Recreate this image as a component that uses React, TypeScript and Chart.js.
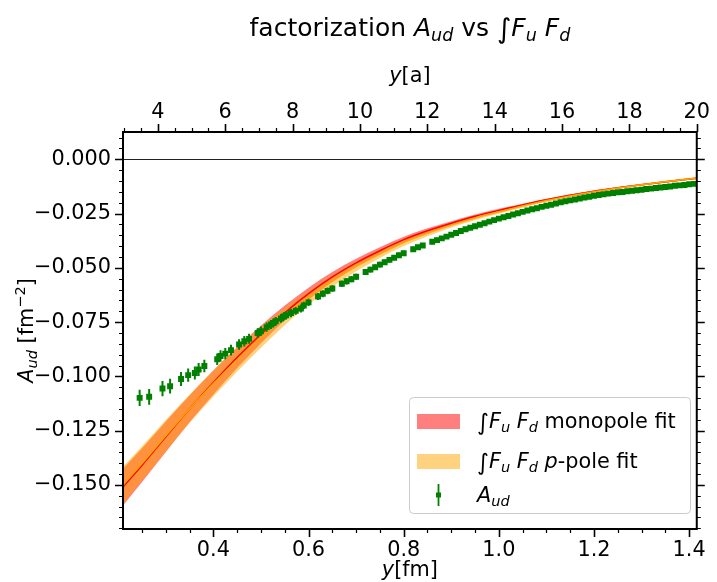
import React, { useEffect, useRef } from 'react';
import { Chart, registerables } from 'chart.js';
Chart.register(...registerables);

// ---------- axis ranges & tick labels ----------
const X_MIN = 0.21; // fm
const X_MAX = 1.416; // fm
const LATTICE_A = 0.0708; // fm, for the top y[a] axis
const Y_MIN = -0.1703;
const Y_MAX = 0.0126;
const X_TICKS = [0.4, 0.6, 0.8, 1.0, 1.2, 1.4];
const XA_TICKS = [4, 6, 8, 10, 12, 14, 16, 18, 20];
const Y_TICKS = [0, -0.025, -0.05, -0.075, -0.1, -0.125, -0.15];

// ---------- fit bands ----------
const FIT_X = [0.21, 0.25, 0.3, 0.35, 0.4, 0.45, 0.5, 0.55, 0.6, 0.65, 0.7, 0.75, 0.8, 0.85, 0.9, 0.95, 1.0, 1.1, 1.2, 1.3, 1.416];
const MONO_MID = [-0.1510, -0.1409, -0.1278, -0.1149, -0.1028, -0.0913, -0.0806, -0.0707, -0.0619, -0.0542, -0.0477, -0.0421, -0.0370, -0.0329, -0.0294, -0.0262, -0.0235, -0.0186, -0.0147, -0.0117, -0.0087];
const MONO_HI = [-0.1425, -0.1331, -0.1208, -0.1087, -0.0973, -0.0865, -0.0765, -0.0673, -0.0591, -0.0519, -0.0458, -0.0405, -0.0357, -0.0318, -0.0285, -0.0254, -0.0228, -0.0181, -0.0143, -0.0114, -0.0084];
const MONO_LO = [-0.1595, -0.1487, -0.1348, -0.1211, -0.1083, -0.0961, -0.0847, -0.0741, -0.0647, -0.0565, -0.0496, -0.0437, -0.0383, -0.0340, -0.0303, -0.0270, -0.0242, -0.0191, -0.0151, -0.0120, -0.0090];
const PP_MID = [-0.1500, -0.1401, -0.1273, -0.1149, -0.1033, -0.0923, -0.0821, -0.0724, -0.0637, -0.0560, -0.0493, -0.0436, -0.0383, -0.0341, -0.0303, -0.0270, -0.0242, -0.0190, -0.0149, -0.0117, -0.0086];
const PP_HI = [-0.1415, -0.1322, -0.1201, -0.1084, -0.0973, -0.0869, -0.0774, -0.0684, -0.0605, -0.0533, -0.0470, -0.0417, -0.0367, -0.0328, -0.0292, -0.0260, -0.0233, -0.0183, -0.0143, -0.0112, -0.0081];
const PP_LO = [-0.1585, -0.1480, -0.1345, -0.1214, -0.1093, -0.0977, -0.0868, -0.0764, -0.0669, -0.0587, -0.0516, -0.0455, -0.0399, -0.0354, -0.0314, -0.0280, -0.0251, -0.0197, -0.0155, -0.0122, -0.0091];

// ---------- A_ud data ----------
const AUD_X = [
  0.245, 0.265, 0.293, 0.309, 0.332, 0.347, 0.361, 0.369, 0.381, 0.408, 0.415, 0.425, 0.437, 0.454,
  0.465, 0.475, 0.493, 0.500, 0.512, 0.521, 0.526, 0.531, 0.542, 0.548, 0.553, 0.563, 0.573, 0.584,
  0.59, 0.60, 0.62, 0.63, 0.64, 0.65, 0.67, 0.68, 0.69, 0.70,
  0.72, 0.73, 0.74, 0.75, 0.76, 0.77, 0.78, 0.79, 0.80,
  0.82, 0.83, 0.84,
  0.86, 0.87, 0.88, 0.89, 0.90,
  0.91, 0.92, 0.93, 0.94, 0.95, 0.96, 0.97, 0.98, 0.99, 1.00,
  1.01, 1.02, 1.03, 1.04, 1.05, 1.06, 1.07, 1.08, 1.09, 1.10,
  1.11, 1.12, 1.13, 1.14, 1.15, 1.16, 1.17, 1.18, 1.19, 1.20, 1.21, 1.22, 1.23, 1.24, 1.25,
  1.26, 1.27, 1.28, 1.29, 1.30, 1.31, 1.32, 1.33, 1.34, 1.35, 1.36, 1.37, 1.38, 1.39, 1.40, 1.41,
];
const AUD_Y = [
  -0.1099, -0.1094, -0.1056, -0.1045, -0.1012, -0.0994, -0.0984, -0.0968, -0.0952, -0.0921, -0.0906, -0.0895, -0.0879, -0.0853,
  -0.0838, -0.0827, -0.0800, -0.0792, -0.0773, -0.0761, -0.0754, -0.0746, -0.0733, -0.0724, -0.0718, -0.0708, -0.0698, -0.0687,
  -0.0673, -0.0659, -0.0632, -0.0619, -0.0606, -0.0595, -0.0573, -0.0562, -0.0552, -0.0541,
  -0.0519, -0.0508, -0.0497, -0.0485, -0.0474, -0.0463, -0.0453, -0.0442, -0.0433,
  -0.0414, -0.0405, -0.0397,
  -0.0380, -0.0372, -0.0364, -0.0356, -0.0347,
  -0.0339, -0.0330, -0.0322, -0.0315, -0.0308, -0.0301, -0.0294, -0.0287, -0.0280, -0.0273,
  -0.0267, -0.0261, -0.0254, -0.0248, -0.0242, -0.0236, -0.0230, -0.0225, -0.0219, -0.0214,
  -0.0209, -0.0203, -0.0198, -0.0193, -0.0189, -0.0185, -0.0180, -0.0176, -0.0172, -0.0168, -0.0164, -0.0161, -0.0158, -0.0155, -0.0152,
  -0.0150, -0.0147, -0.0145, -0.0142, -0.0140, -0.0137, -0.0135, -0.0132, -0.0130, -0.0127, -0.0125, -0.0122, -0.0120, -0.0118, -0.0115, -0.0113,
];
const AUD_ERR = [
  0.0037, 0.0036, 0.0035, 0.0034, 0.0032, 0.0031, 0.0030, 0.0030, 0.0029, 0.0027, 0.0027, 0.0026, 0.0025, 0.0024,
  0.0024, 0.0023, 0.0022, 0.0022, 0.0021, 0.0021, 0.0020, 0.0020, 0.0020, 0.0019, 0.0019, 0.0019, 0.0018, 0.0018,
  0.0017, 0.0017, 0.0016, 0.0016, 0.0016, 0.0015, 0.0015, 0.0015, 0.0014, 0.0014,
  0.0014, 0.0013, 0.0013, 0.0013, 0.0013, 0.0012, 0.0012, 0.0012, 0.0012,
  0.0011, 0.0011, 0.0011,
  0.0011, 0.0011, 0.0011, 0.0011, 0.0011,
  0.0010, 0.0010, 0.0010, 0.0010, 0.0010, 0.0010, 0.0010, 0.0010, 0.0010, 0.0010,
  0.0010, 0.0010, 0.0010, 0.0010, 0.0010, 0.0010, 0.0010, 0.0010, 0.0010, 0.0010,
  0.0009, 0.0009, 0.0009, 0.0009, 0.0009, 0.0009, 0.0009, 0.0009, 0.0009, 0.0009, 0.0009, 0.0009, 0.0009, 0.0009, 0.0009,
  0.0008, 0.0008, 0.0008, 0.0008, 0.0008, 0.0008, 0.0008, 0.0008, 0.0008, 0.0008, 0.0008, 0.0008, 0.0008, 0.0008, 0.0008, 0.0008,
];

// ---------- styling ----------
const FAM = "'DejaVu Sans', 'Liberation Sans', sans-serif";
const FS = 20.8;
const TITLE_FS = 25;
const MONO_FILL = 'rgba(255,0,0,0.5)';
const PP_FILL = 'rgba(255,165,0,0.5)';
const GREEN = '#008000';

type Seg = { t: string; it?: boolean; sub?: boolean; sup?: boolean; scale?: number; dy?: number };

function segFont(s: Seg, size: number) {
  const sz = size * (s.sub || s.sup ? 0.7 : 1) * (s.scale || 1);
  return `${s.it ? 'italic ' : ''}${sz}px ${FAM}`;
}
function richWidth(ctx: CanvasRenderingContext2D, segs: Seg[], size: number) {
  let w = 0;
  for (const s of segs) {
    ctx.font = segFont(s, size);
    w += ctx.measureText(s.t).width;
  }
  return w;
}
function drawRich(ctx: CanvasRenderingContext2D, segs: Seg[], x: number, y: number, size: number, align: 'left' | 'center') {
  const w = richWidth(ctx, segs, size);
  let cx = align === 'center' ? x - w / 2 : x;
  ctx.textAlign = 'left';
  ctx.textBaseline = 'alphabetic';
  ctx.fillStyle = 'black';
  for (const s of segs) {
    ctx.font = segFont(s, size);
    const dy = s.sub ? 0.2 * size : s.sup ? -0.4 * size : (s.dy || 0) * size;
    ctx.fillText(s.t, cx, y + dy);
    cx += ctx.measureText(s.t).width;
  }
}

const INT_FF: Seg[] = [
  { t: '\u222B', scale: 1.1, dy: 0.08 },
  { t: 'F', it: true },
  { t: 'u', it: true, sub: true },
  { t: ' ' },
  { t: 'F', it: true },
  { t: 'd', it: true, sub: true },
];
const TITLE: Seg[] = [
  { t: 'factorization ' },
  { t: 'A', it: true },
  { t: 'ud', it: true, sub: true },
  { t: ' vs ' },
  ...INT_FF,
];
const LEG1: Seg[] = [...INT_FF, { t: ' monopole fit' }];
const LEG2: Seg[] = [...INT_FF, { t: ' ' }, { t: 'p', it: true }, { t: '-pole fit' }];
const LEG3: Seg[] = [{ t: 'A', it: true }, { t: 'ud', it: true, sub: true }];
const YLABEL: Seg[] = [{ t: 'A', it: true }, { t: 'ud', it: true, sub: true }, { t: ' [fm' }, { t: '\u22122', sup: true }, { t: ']' }];
const XLABEL: Seg[] = [{ t: 'y', it: true }, { t: '[fm]' }];
const XALABEL: Seg[] = [{ t: 'y', it: true }, { t: '[a]' }];

const pts = (xs: number[], ys: number[]) => xs.map((x, i) => ({ x, y: ys[i] }));

const fmtY = (v: number) => {
  const s = Number(v).toFixed(3);
  return s.startsWith('-') ? '\u2212' + s.slice(1) : s;
};

const bgPlugin = {
  id: 'bg',
  beforeDraw(chart: any) {
    const ctx = chart.ctx;
    ctx.save();
    ctx.fillStyle = 'white';
    ctx.fillRect(0, 0, chart.width, chart.height);
    ctx.restore();
  },
  beforeDatasetsDraw(chart: any) {
    const ctx = chart.ctx;
    const ca = chart.chartArea;
    const y0 = Math.round(chart.scales.y.getPixelForValue(0)) + 0.5;
    ctx.save();
    ctx.strokeStyle = '#222222';
    ctx.lineWidth = 1.2;
    ctx.beginPath();
    ctx.moveTo(ca.left, y0);
    ctx.lineTo(ca.right, y0);
    ctx.stroke();
    ctx.restore();
  },
};

const errPlugin = {
  id: 'errbars',
  afterDatasetsDraw(chart: any) {
    const ctx = chart.ctx;
    const ca = chart.chartArea;
    const xs = chart.scales.x;
    const ys = chart.scales.y;
    ctx.save();
    ctx.beginPath();
    ctx.rect(ca.left, ca.top, ca.right - ca.left, ca.bottom - ca.top);
    ctx.clip();
    ctx.strokeStyle = GREEN;
    ctx.lineWidth = 2;
    ctx.beginPath();
    for (let i = 0; i < AUD_X.length; i++) {
      const px = xs.getPixelForValue(AUD_X[i]);
      ctx.moveTo(px, ys.getPixelForValue(AUD_Y[i] + AUD_ERR[i]));
      ctx.lineTo(px, ys.getPixelForValue(AUD_Y[i] - AUD_ERR[i]));
    }
    ctx.stroke();
    ctx.restore();
  },
};

const framePlugin = {
  id: 'frame',
  afterDraw(chart: any) {
    const ctx = chart.ctx as CanvasRenderingContext2D;
    const ca = chart.chartArea;
    const xs = chart.scales.x;
    const xa = chart.scales.x2;
    const ys = chart.scales.y;
    const MAJ = 8;
    const MIN = 4;
    ctx.save();
    ctx.strokeStyle = 'black';

    // y ticks (left & right)
    const yTick = (v: number, len: number, lw: number) => {
      const py = Math.round(ys.getPixelForValue(v)) + 0.5;
      ctx.lineWidth = lw;
      ctx.beginPath();
      ctx.moveTo(ca.left - len, py);
      ctx.lineTo(ca.left, py);
      ctx.moveTo(ca.right, py);
      ctx.lineTo(ca.right + len, py);
      ctx.stroke();
    };
    for (let k = -34; k <= 2; k++) {
      const v = k * 0.005;
      if (v < Y_MIN || v > Y_MAX) continue;
      if (k % 5 === 0) yTick(v, MAJ, 1.6);
      else yTick(v, MIN, 1.2);
    }
    // bottom ticks
    const xTick = (v: number, len: number, lw: number) => {
      const px = Math.round(xs.getPixelForValue(v)) + 0.5;
      ctx.lineWidth = lw;
      ctx.beginPath();
      ctx.moveTo(px, ca.bottom);
      ctx.lineTo(px, ca.bottom + len);
      ctx.stroke();
    };
    for (let k = 5; k <= 28; k++) {
      const v = k * 0.05;
      if (v < X_MIN || v > X_MAX) continue;
      if (k % 4 === 0) xTick(v, MAJ, 1.6);
      else xTick(v, MIN, 1.2);
    }
    // top ticks
    const aTick = (v: number, len: number, lw: number) => {
      const px = Math.round(xa.getPixelForValue(v)) + 0.5;
      ctx.lineWidth = lw;
      ctx.beginPath();
      ctx.moveTo(px, ca.top - len);
      ctx.lineTo(px, ca.top);
      ctx.stroke();
    };
    for (let k = 6; k <= 40; k++) {
      const v = k * 0.5;
      if (v < xa.min || v > xa.max + 1e-9) continue;
      if (k % 4 === 0) aTick(v, MAJ, 1.6);
      else aTick(v, MIN, 1.2);
    }
    // spines
    ctx.lineWidth = 2;
    ctx.strokeRect(ca.left, ca.top, ca.right - ca.left, ca.bottom - ca.top);

    // title & axis labels
    const cx = (ca.left + ca.right) / 2;
    drawRich(ctx, TITLE, cx, 36, TITLE_FS, 'center');
    drawRich(ctx, XALABEL, cx, 82, FS, 'center');
    drawRich(ctx, XLABEL, cx, 576, FS, 'center');
    ctx.save();
    ctx.translate(33, (ca.top + ca.bottom) / 2);
    ctx.rotate(-Math.PI / 2);
    drawRich(ctx, YLABEL, 0, 0, FS, 'center');
    ctx.restore();

    // legend
    const bx = 409.5, by = 397.5, bw = 281, bh = 116;
    ctx.beginPath();
    (ctx as any).roundRect(bx, by, bw, bh, 4);
    ctx.fillStyle = 'rgba(255,255,255,0.8)';
    ctx.fill();
    ctx.strokeStyle = '#cccccc';
    ctx.lineWidth = 1;
    ctx.stroke();
    ctx.fillStyle = MONO_FILL;
    ctx.fillRect(417, 414, 43, 15);
    ctx.fillStyle = PP_FILL;
    ctx.fillRect(417, 454, 43, 15);
    ctx.strokeStyle = GREEN;
    ctx.lineWidth = 1.8;
    ctx.beginPath();
    ctx.moveTo(438.5, 484);
    ctx.lineTo(438.5, 506);
    ctx.stroke();
    ctx.fillStyle = GREEN;
    ctx.fillRect(436, 492.5, 5, 5);
    drawRich(ctx, LEG1, 477, 428, FS, 'left');
    drawRich(ctx, LEG2, 477, 468, FS, 'left');
    drawRich(ctx, LEG3, 477, 502, FS, 'left');
    ctx.restore();
  },
};

const tickFont = { family: FAM, size: FS };

export default function App() {
  const ref = useRef<HTMLCanvasElement>(null);
  useEffect(() => {
    const canvas = ref.current!;
    const bandLine = { pointRadius: 0, borderWidth: 0, borderColor: 'rgba(0,0,0,0)', cubicInterpolationMode: 'monotone' as const };
    const chart = new Chart(canvas, {
      type: 'line',
      data: {
        datasets: [
          {
            label: 'A_ud',
            data: pts(AUD_X, AUD_Y),
            showLine: false,
            pointStyle: 'rect',
            pointRadius: 4.2,
            pointBorderWidth: 0,
            pointBackgroundColor: GREEN,
            borderColor: GREEN,
            backgroundColor: GREEN,
            fill: false,
          },
          {
            label: 'pp',
            data: pts(FIT_X, PP_MID),
            borderColor: 'orange',
            borderWidth: 1.5,
            pointRadius: 0,
            fill: false,
            cubicInterpolationMode: 'monotone',
          },
          {
            label: 'mono',
            data: pts(FIT_X, MONO_MID),
            borderColor: 'red',
            borderWidth: 1.5,
            pointRadius: 0,
            fill: false,
            cubicInterpolationMode: 'monotone',
          },
          { label: 'pp hi', data: pts(FIT_X, PP_HI), ...bandLine, fill: '+1', backgroundColor: PP_FILL },
          { label: 'pp lo', data: pts(FIT_X, PP_LO), ...bandLine, fill: false },
          { label: 'mono hi', data: pts(FIT_X, MONO_HI), ...bandLine, fill: '+1', backgroundColor: MONO_FILL },
          { label: 'mono lo', data: pts(FIT_X, MONO_LO), ...bandLine, fill: false },
        ],
      },
      options: {
        animation: false,
        responsive: false,
        maintainAspectRatio: false,
        events: [],
        layout: { padding: { left: 0, right: 17, top: 0, bottom: 0 } },
        plugins: { legend: { display: false }, tooltip: { enabled: false }, title: { display: false } },
        scales: {
          x: {
            type: 'linear',
            position: 'bottom',
            display: true,
            min: X_MIN,
            max: X_MAX,
            grid: { display: false, drawTicks: false },
            border: { display: false },
            ticks: {
              padding: 9,
              font: tickFont,
              color: 'black',
              maxRotation: 0,
              autoSkip: false,
              callback: (v: any) => Number(v).toFixed(1),
            },
            afterBuildTicks: (s: any) => {
              s.ticks = X_TICKS.map((v) => ({ value: v }));
            },
            afterFit: (s: any) => {
              s.height = 53;
            },
          },
          x2: {
            type: 'linear',
            position: 'top',
            display: true,
            min: X_MIN / LATTICE_A,
            max: X_MAX / LATTICE_A,
            grid: { display: false, drawTicks: false },
            border: { display: false },
            ticks: {
              padding: 7,
              font: tickFont,
              color: 'black',
              maxRotation: 0,
              autoSkip: false,
              callback: (v: any) => String(Math.round(Number(v))),
            },
            afterBuildTicks: (s: any) => {
              s.ticks = XA_TICKS.map((v) => ({ value: v }));
            },
            afterFit: (s: any) => {
              s.height = 132;
            },
          },
          y: {
            type: 'linear',
            position: 'left',
            display: true,
            min: Y_MIN,
            max: Y_MAX,
            grid: { display: false, drawTicks: false },
            border: { display: false },
            ticks: {
              padding: 12,
              font: tickFont,
              color: 'black',
              autoSkip: false,
              callback: (v: any) => fmtY(Number(v)),
            },
            afterBuildTicks: (s: any) => {
              s.ticks = Y_TICKS.map((v) => ({ value: v }));
            },
            afterFit: (s: any) => {
              s.width = 123;
            },
          },
        },
      } as any,
      plugins: [bgPlugin, errPlugin, framePlugin],
    });
    return () => chart.destroy();
  }, []);
  return (
    <div style={{ position: 'absolute', left: 0, top: 0, width: 717, height: 582 }}>
      <canvas ref={ref} width={717} height={582} style={{ width: 717, height: 582, display: 'block' }} />
    </div>
  );
}
